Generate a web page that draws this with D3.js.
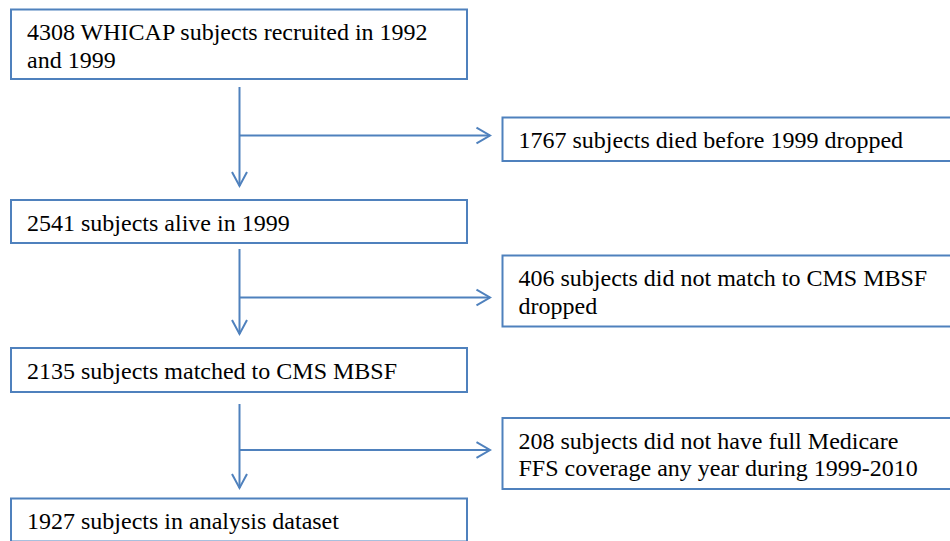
<!DOCTYPE html>
<html>
<head>
<meta charset="utf-8">
<script src="https://cdn.jsdelivr.net/npm/d3@7"></script>
<style>
  html, body { margin: 0; padding: 0; background: #fff; }
  svg { display: block; }
  svg text { font-family: "Liberation Serif", "Times New Roman", Times, serif; }
</style>
</head>
<body>
<script>
// ---- data ----
const mainSteps = [
  ["4308 WHICAP subjects recruited in 1992", "and 1999"],
  ["2541 subjects alive in 1999"],
  ["2135 subjects matched to CMS MBSF"],
  ["1927 subjects in analysis dataset"]
];
const exclusions = [
  ["1767 subjects died before 1999 dropped"],
  ["406 subjects did not match to CMS MBSF", "dropped"],
  ["208 subjects did not have full Medicare", "FFS coverage any year during 1999-2010"]
];

// ---- layout (positions only) ----
const W = 950, H = 541;
const color = "#4F81BD";
const fontSize = 24, lineH = 27.5, padTop = 30.5;
const mainX = 11, mainW = 456;
const sideX = 502.5, sideW = 470;
const mainTops = [9.5, 200, 348, 498.5];
const mainHeights = [69.5, 43, 44, 43];
const sideTops = [117.5, 255.5, 418];
const sideHeights = [43.5, 71, 71];
const trunkX = 239.5;
const connStart = [87, 249, 404];
const connTip = [186, 334, 488];
const branchY = [135.5, 297.5, 450];
const branchTip = 490;

const svg = d3.select("body").append("svg")
  .attr("width", W).attr("height", H);

function drawBox(g, x, y, w, h, lines, tx) {
  g.append("rect")
    .attr("x", x).attr("y", y).attr("width", w).attr("height", h)
    .attr("fill", "#fff").attr("stroke", color).attr("stroke-width", 2);
  const t = g.append("text")
    .attr("font-size", fontSize).attr("fill", "#000");
  lines.forEach((l, i) => {
    t.append("tspan").attr("x", tx).attr("y", y + padTop + i * lineH).text(l);
  });
}

const gMain = svg.append("g");
mainSteps.forEach((lines, i) => {
  drawBox(gMain.append("g"), mainX, mainTops[i], mainW, mainHeights[i], lines, mainX + 16);
});
const gSide = svg.append("g");
exclusions.forEach((lines, i) => {
  drawBox(gSide.append("g"), sideX, sideTops[i], sideW, sideHeights[i], lines, sideX + 16);
});

const gConn = svg.append("g")
  .attr("stroke", color).attr("stroke-width", 2).attr("fill", "none")
  .attr("stroke-linecap", "butt");
exclusions.forEach((_, i) => {
  gConn.append("line")
    .attr("x1", trunkX).attr("y1", connStart[i])
    .attr("x2", trunkX).attr("y2", connTip[i]);
  gConn.append("path")
    .attr("d", d3.line()([[trunkX - 7.5, connTip[i] - 14], [trunkX, connTip[i]], [trunkX + 7.5, connTip[i] - 14]]));
  gConn.append("line")
    .attr("x1", trunkX).attr("y1", branchY[i])
    .attr("x2", branchTip).attr("y2", branchY[i]);
  gConn.append("path")
    .attr("d", d3.line()([[branchTip - 13.5, branchY[i] - 7.8], [branchTip, branchY[i]], [branchTip - 13.5, branchY[i] + 7.8]]));
});
</script>
</body>
</html>
